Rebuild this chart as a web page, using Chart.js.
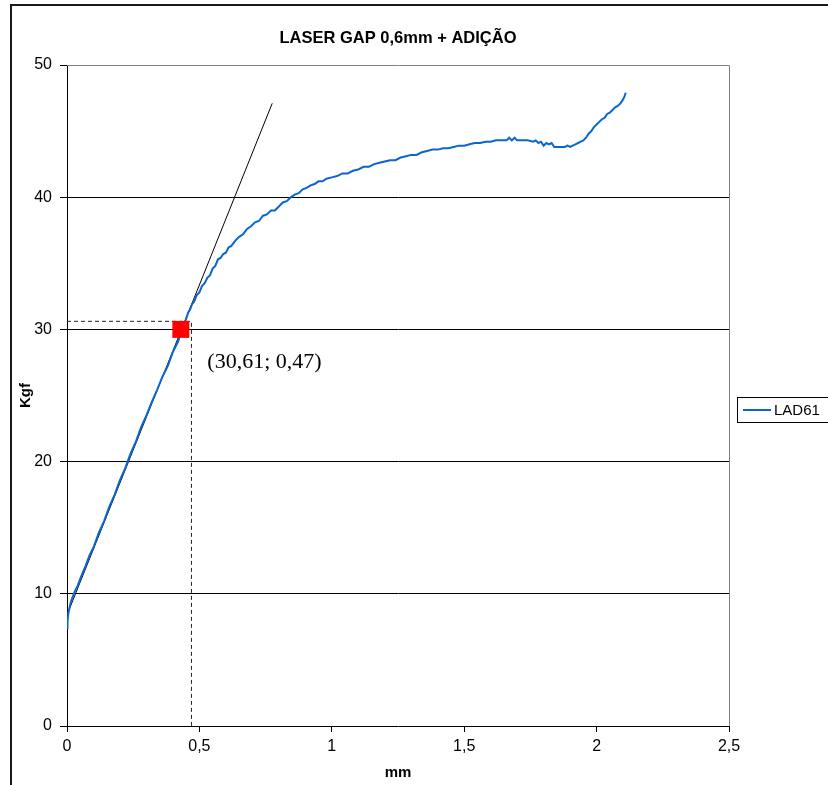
<!DOCTYPE html>
<html>
<head>
<meta charset="utf-8">
<script src="https://cdn.jsdelivr.net/npm/chart.js@4/dist/chart.umd.min.js"></script>
<style>
  html, body { margin: 0; padding: 0; background: #fff; }
  #wrap { width: 828px; height: 785px; position: relative; overflow: hidden; }
  canvas { display: block; }
</style>
</head>
<body>
<div id="wrap"><canvas id="c" width="828" height="785"></canvas></div>
<script>
// Texts
const chartTitle = 'LASER GAP 0,6mm + ADIÇÃO';
const xTitle = 'mm';
const yTitle = 'Kgf';
const seriesName = 'LAD61';
const noteText = '(30,61; 0,47)';

// Axis ticks
const xTicks = [0, 0.5, 1, 1.5, 2, 2.5];
const yTicks = [0, 10, 20, 30, 40, 50];

// Load (Kgf) versus displacement (mm) for specimen LAD61
const lad61X = [
  0, 0.002, 0.005, 0.01, 0.015, 0.02, 0.03, 0.04, 0.055, 0.07, 0.085, 0.1, 0.12, 0.14, 0.16, 0.18,
  0.2, 0.22, 0.24, 0.26, 0.28, 0.3, 0.32, 0.34, 0.36, 0.38, 0.4, 0.42, 0.43, 0.44,
  0.45, 0.458, 0.465, 0.472, 0.48, 0.49, 0.5, 0.51, 0.52, 0.53, 0.54, 0.55, 0.56, 0.57, 0.58, 0.59,
  0.6, 0.61, 0.62, 0.635, 0.65, 0.665, 0.68, 0.695, 0.71, 0.725, 0.74, 0.755, 0.77, 0.785, 0.8,
  0.815, 0.83, 0.845, 0.86, 0.875, 0.89, 0.905, 0.92, 0.935, 0.95, 0.965, 0.98, 1.0,
  1.02, 1.04, 1.06, 1.08, 1.1, 1.12, 1.14, 1.16, 1.18, 1.2, 1.22, 1.24, 1.26, 1.28, 1.3, 1.32,
  1.34, 1.36, 1.38, 1.4, 1.42, 1.44, 1.46, 1.48, 1.5, 1.52, 1.54, 1.56, 1.58, 1.6, 1.62, 1.64, 1.66,
  1.67, 1.68, 1.69, 1.7, 1.72, 1.74, 1.76, 1.77, 1.78, 1.79, 1.8, 1.81, 1.82, 1.83, 1.84, 1.86,
  1.88, 1.89, 1.9, 1.91, 1.92, 1.93, 1.94, 1.95, 1.96, 1.97, 1.98, 1.99, 2.0, 2.01, 2.02, 2.03,
  2.04, 2.05, 2.06, 2.07, 2.08, 2.09, 2.1, 2.105, 2.11];
const lad61Y = [
  7.4, 7.9, 8.5, 9.0, 9.4, 9.7, 10.2, 10.6, 11.4, 12.1, 12.9, 13.5, 14.6, 15.5, 16.6, 17.5,
  18.6, 19.5, 20.6, 21.5, 22.6, 23.5, 24.5, 25.4, 26.4, 27.2, 28.3, 29.1, 29.8, 30.3,
  30.8, 31.3, 31.5, 31.9, 32.1, 32.6, 32.8, 33.3, 33.5, 33.9, 34.1, 34.6, 34.8, 35.3, 35.4, 35.7,
  35.8, 36.2, 36.3, 36.7, 37.0, 37.2, 37.6, 37.8, 38.1, 38.2, 38.6, 38.7, 39.0, 39.0, 39.3,
  39.6, 39.7, 40.0, 40.2, 40.3, 40.6, 40.7, 40.9, 41.0, 41.2, 41.2, 41.4, 41.5,
  41.6, 41.8, 41.8, 42.0, 42.1, 42.3, 42.3, 42.5, 42.6, 42.7, 42.8, 42.8, 43.0, 43.1, 43.2, 43.2,
  43.4, 43.5, 43.6, 43.6, 43.7, 43.7, 43.8, 43.9, 43.9, 44.0, 44.1, 44.1, 44.2, 44.2, 44.3, 44.3, 44.3,
  44.5, 44.3, 44.5, 44.3, 44.3, 44.3, 44.2, 44.3, 44.1, 44.2, 43.9, 44.1, 44.0, 44.1, 43.8, 43.8,
  43.8, 43.9, 43.8, 43.9, 44.0, 44.1, 44.2, 44.3, 44.5, 44.8, 45.0, 45.3, 45.5, 45.7, 45.9, 46.0,
  46.3, 46.4, 46.6, 46.8, 46.9, 47.1, 47.4, 47.6, 47.9];

// Elastic tangent line
const tangentX = [0, 0.775];
const tangentY = [8.4, 47.1];

// Marked yield point and its guide lines
const markX = [0.43];
const markY = [30];
const guideX = [0, 0.47, 0.47];
const guideY = [30.61, 30.61, 0];
const noteAt = [0.53, 27.5];

const toPts = (xs, ys) => xs.map((x, i) => ({ x, y: ys[i] }));
const fmt = v => String(v).replace('.', ',');

const decorations = {
  id: 'decorations',
  beforeDatasetsDraw(chart) {
    const { ctx, chartArea: a } = chart;
    ctx.save();
    ctx.strokeStyle = '#808080';
    ctx.lineWidth = 1;
    ctx.beginPath();
    ctx.moveTo(a.left, a.top + 0.5);
    ctx.lineTo(a.right + 0.5, a.top + 0.5);
    ctx.lineTo(a.right + 0.5, a.bottom);
    ctx.stroke();
    ctx.restore();
  },
  afterDraw(chart) {
    const { ctx, chartArea: a, scales } = chart;
    ctx.save();
    // outer frame
    ctx.strokeStyle = '#1a1a1a';
    ctx.lineWidth = 2;
    ctx.strokeRect(11, 5, 900, 900);
    // title
    ctx.fillStyle = '#000';
    ctx.font = 'bold 16.5px "Liberation Sans", Arial, sans-serif';
    ctx.textAlign = 'center';
    ctx.textBaseline = 'middle';
    ctx.fillText(chartTitle, (a.left + a.right) / 2, 38);
    // point annotation
    ctx.font = '22px "Liberation Serif", "Times New Roman", serif';
    ctx.textAlign = 'left';
    ctx.fillText(noteText, scales.x.getPixelForValue(noteAt[0]), scales.y.getPixelForValue(noteAt[1]));
    // legend
    const lx = 737, ly = 397, lh = 25;
    ctx.strokeStyle = '#000';
    ctx.lineWidth = 1;
    ctx.strokeRect(lx + 0.5, ly + 0.5, 200, lh);
    ctx.strokeStyle = '#0a66cc';
    ctx.lineWidth = 2;
    ctx.beginPath();
    ctx.moveTo(lx + 6, ly + lh / 2 + 0.5);
    ctx.lineTo(lx + 34, ly + lh / 2 + 0.5);
    ctx.stroke();
    ctx.fillStyle = '#000';
    ctx.font = '15px "Liberation Sans", Arial, sans-serif';
    ctx.textBaseline = 'middle';
    ctx.fillText(seriesName, lx + 37, ly + lh / 2 + 1);
    ctx.restore();
  }
};

new Chart(document.getElementById('c'), {
  type: 'scatter',
  data: {
    datasets: [
      { label: 'marca', data: toPts(markX, markY), pointStyle: 'rect', pointRadius: 12,
        pointHoverRadius: 12, backgroundColor: '#ff0000', borderWidth: 0, order: 0 },
      { label: 'guia', data: toPts(guideX, guideY), showLine: true, borderColor: '#222',
        borderWidth: 1, borderDash: [4, 3], pointRadius: 0, order: 3 },
      { label: 'tangente', data: toPts(tangentX, tangentY), showLine: true, borderColor: '#000',
        borderWidth: 1, pointRadius: 0, order: 2 },
      { label: seriesName, data: toPts(lad61X, lad61Y), showLine: true, borderColor: '#0a66cc',
        borderWidth: 2, pointRadius: 0, tension: 0, order: 1 }
    ]
  },
  options: {
    responsive: false,
    animation: false,
    devicePixelRatio: 1,
    layout: { padding: { left: 0, top: 65, right: 99, bottom: 0 } },
    plugins: { legend: { display: false }, title: { display: false }, tooltip: { enabled: false } },
    scales: {
      x: {
        type: 'linear', min: 0, max: 2.5,
        afterFit(s) { s.height = 59; },
        afterBuildTicks(s) { s.ticks = xTicks.map(v => ({ value: v })); },
        ticks: { color: '#000', padding: 5, font: { family: '"Liberation Sans", Arial', size: 16 },
          callback: v => fmt(v), maxRotation: 0 },
        grid: { drawOnChartArea: false, drawTicks: true, tickLength: 6, tickColor: '#000' },
        border: { color: '#000', width: 1 },
        title: { display: true, text: xTitle, color: '#000', padding: { top: 0, bottom: 3 },
          font: { family: '"Liberation Sans", Arial', size: 15, weight: 'bold' } }
      },
      y: {
        type: 'linear', min: 0, max: 50,
        afterFit(s) { s.width = 67; },
        afterBuildTicks(s) { s.ticks = yTicks.map(v => ({ value: v })); },
        ticks: { color: '#000', padding: 8, font: { family: '"Liberation Sans", Arial', size: 16 },
          callback: v => fmt(v) },
        grid: { drawTicks: true, tickLength: 7, tickColor: '#000',
          color: c => (c.tick && (c.tick.value === 50 || c.tick.value === 0)) ? 'rgba(0,0,0,0)' : '#000' },
        border: { color: '#000', width: 1 },
        title: { display: true, text: yTitle, color: '#000', padding: { top: 17, bottom: 0 },
          font: { family: '"Liberation Sans", Arial', size: 15, weight: 'bold' } }
      }
    }
  },
  plugins: [decorations]
});
</script>
</body>
</html>
